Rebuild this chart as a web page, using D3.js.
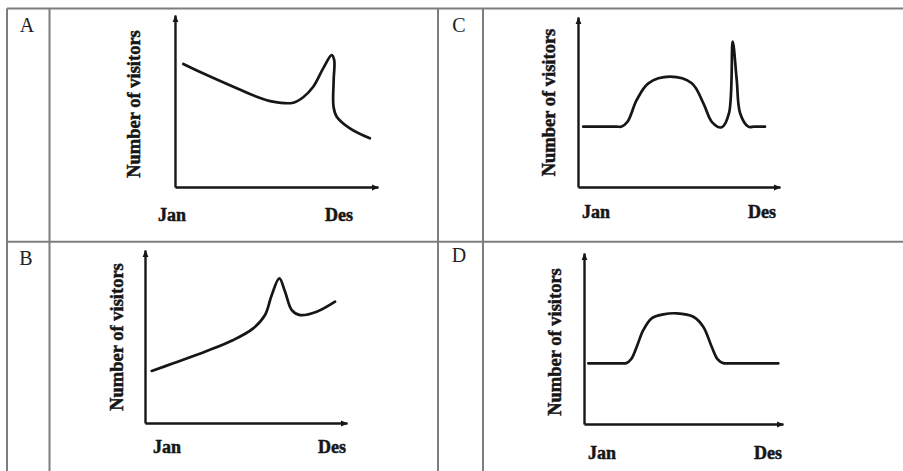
<!DOCTYPE html>
<html><head><meta charset="utf-8">
<script src="https://cdn.jsdelivr.net/npm/d3@7"></script>
<style>body{margin:0;background:#fff}svg{display:block}</style>
</head><body>
<svg id="c" width="903" height="471"></svg>
<script>
// ---- data ----
const panelLetters = ["A", "B", "C", "D"];
const xTickLabels = ["Jan", "Des"];
const yAxisTitle = "Number of visitors";

// month position (0 = Jan start, 12 = Des end) and relative visitors (0-100)
const seriesA_month    = [0.49, 1.65, 3.65, 4.83, 5.79, 6.99, 7.58, 8.17, 8.76, 9.26, 9.41, 9.38, 9.37, 9.56, 10.34, 11.52];
const seriesA_visitors = [71.5, 66.1, 57.4, 52.5, 49.6, 49.0, 52.2, 58.3, 69.0, 76.7, 73.8, 62.2, 46.7, 40.9, 34.1, 28.3];

const seriesB_month    = [0.40, 1.68, 3.67, 5.25, 6.43, 7.13, 7.53, 7.98, 8.32, 8.72, 9.21, 10.20, 11.29];
const seriesB_visitors = [30.1, 34.5, 41.6, 48.0, 54.7, 62.4, 74.0, 83.6, 75.9, 65.3, 62.4, 64.3, 70.1];

const seriesC_month    = [0.31, 1.00, 1.70, 2.30, 2.60, 2.95, 3.49, 4.18, 5.47, 6.76, 7.45, 7.96, 8.54, 8.97, 9.19, 9.43, 9.63, 10.12, 10.45, 10.80, 11.11];
const seriesC_visitors = [35.5, 35.5, 35.5, 35.5, 35.6, 38.5, 51.2, 61.0, 64.9, 61.0, 49.2, 38.2, 35.1, 43.4, 85.5, 62.9, 43.4, 35.5, 35.5, 35.5, 35.5];

const seriesD_month    = [0.26, 0.90, 1.60, 2.20, 2.55, 2.85, 3.18, 3.58, 4.08, 4.78, 5.59, 6.59, 7.19, 7.70, 8.05, 8.40, 8.80, 9.60, 10.40, 11.10, 11.72];
const seriesD_visitors = [35.5, 35.5, 35.5, 35.5, 35.6, 38.0, 45.2, 55.0, 61.8, 64.1, 64.7, 62.7, 56.9, 45.2, 38.0, 35.6, 35.5, 35.5, 35.5, 35.5, 35.5];

// ---- layout ----
const layout = {
  A: {x0:175, x1:378, yb:187, yt:15,  lx:27,  ly:32,  tx:140, ty:104,  jan:[172,221], des:[339,221]},
  B: {x0:145, x1:347, yb:423, yt:250, lx:26,  ly:265, tx:123, ty:337,  jan:[167,453], des:[332,453]},
  C: {x0:578, x1:780, yb:187, yt:17,  lx:459, ly:32,  tx:555, ty:102.5,jan:[596,218], des:[762,218]},
  D: {x0:584, x1:783, yb:424, yt:253, lx:459, ly:262, tx:561, ty:342,  jan:[602,459], des:[768,459]}
};
const series = {
  A: d3.zip(seriesA_month, seriesA_visitors),
  B: d3.zip(seriesB_month, seriesB_visitors),
  C: d3.zip(seriesC_month, seriesC_visitors),
  D: d3.zip(seriesD_month, seriesD_visitors)
};

const svg = d3.select("#c");
const ink = "#161616";

// arrow marker
svg.append("defs").append("marker")
  .attr("id","arr").attr("viewBox","0 0 10 10").attr("refX",9).attr("refY",5)
  .attr("markerWidth",3).attr("markerHeight",3).attr("orient","auto")
  .append("path").attr("d","M0,1L10,5L0,9Z").attr("fill",ink);

// table grid
const grid = svg.append("g").attr("stroke","#7d7d7d").attr("stroke-width",2);
[[7,8.5,903,8.5],[7,241.7,903,241.7],[7,8.5,7,471],[49.5,8.5,49.5,471],[438,8.5,438,471],[483,8.5,483,471]]
  .forEach(l => grid.append("line").attr("x1",l[0]).attr("y1",l[1]).attr("x2",l[2]).attr("y2",l[3]));

panelLetters.forEach(k => {
  const L = layout[k];
  const x = d3.scaleLinear().domain([0,12]).range([L.x0, L.x1]);
  const y = d3.scaleLinear().domain([0,100]).range([L.yb, L.yt]);
  const g = svg.append("g");

  // letter
  g.append("text").attr("x",L.lx).attr("y",L.ly).attr("text-anchor","middle")
    .attr("font-family","'Liberation Serif', serif").attr("font-size",20).attr("fill","#222").text(k);

  // axes
  const xa = g.append("g").attr("transform",`translate(0,${L.yb})`)
    .call(d3.axisBottom(x).tickValues([]).tickSizeOuter(0));
  const ya = g.append("g").attr("transform",`translate(${L.x0},0)`)
    .call(d3.axisLeft(y).tickValues([]).tickSizeOuter(0));
  [xa, ya].forEach(a => a.select(".domain").attr("stroke",ink).attr("stroke-width",2.4).attr("marker-end","url(#arr)"));

  // tick labels
  [L.jan, L.des].forEach((p,i) => g.append("text").attr("x",p[0]).attr("y",p[1])
    .attr("text-anchor","middle").attr("font-family","'Liberation Serif', serif")
    .attr("font-weight","bold").attr("font-size",18).attr("fill",ink)
    .attr("stroke",ink).attr("stroke-width",0.5).text(xTickLabels[i]));

  // y title
  g.append("text").attr("transform",`translate(${L.tx},${L.ty}) rotate(-90)`)
    .attr("text-anchor","middle").attr("font-family","'Liberation Serif', serif")
    .attr("font-weight","bold").attr("font-size",18.5).attr("fill",ink)
    .attr("stroke",ink).attr("stroke-width",0.5).text(yAxisTitle);

  // curve
  const line = d3.line().x(d => x(d[0])).y(d => y(d[1])).curve(d3.curveCatmullRom.alpha(0.5));
  g.append("path").datum(series[k]).attr("d",line).attr("fill","none")
    .attr("stroke",ink).attr("stroke-width",2.7).attr("stroke-linecap","round").attr("stroke-linejoin","round");
});
</script>
</body></html>
